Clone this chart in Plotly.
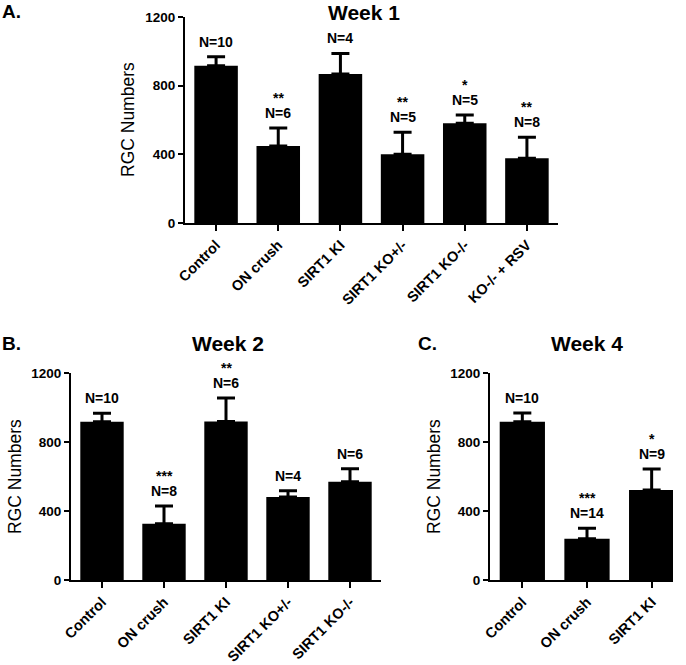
import plotly.graph_objects as go

# ---- Data ----
cats_w1 = ["Control", "ON crush", "SIRT1 KI", "SIRT1 KO+/-", "SIRT1 KO-/-", "KO-/- + RSV"]
vals_w1 = [916, 448, 868, 400, 581, 377]
err_w1 = [53, 105, 120, 128, 48, 122]
n_w1 = [10, 6, 4, 5, 5, 8]
stars_w1 = ["", "**", "", "**", "*", "**"]

cats_w2 = ["Control", "ON crush", "SIRT1 KI", "SIRT1 KO+/-", "SIRT1 KO-/-"]
vals_w2 = [919, 327, 920, 482, 571]
err_w2 = [49, 103, 137, 36, 75]
n_w2 = [10, 8, 6, 4, 6]
stars_w2 = ["", "***", "**", "", ""]

cats_w4 = ["Control", "ON crush", "SIRT1 KI"]
vals_w4 = [919, 240, 522]
err_w4 = [51, 60, 122]
n_w4 = [10, 14, 9]
stars_w4 = ["", "***", "*"]

y_ticks = [0, 400, 800, 1200]

W, H = 686, 665
FONT = "Liberation Sans"

def px_x(p):
    return p / W

def px_y(p):
    return 1 - p / H

panels = [
    dict(cats=cats_w1, vals=vals_w1, err=err_w1, n=n_w1, stars=stars_w1,
         xd=[px_x(185), px_x(558)], yd=[px_y(223), px_y(17)], xr=[-0.5, 5.5],
         title="Week 1", tx=364, ty=0, ya_t="top", letter="A.", lx=1, ly=0,
         ytx=128, yty=120),
    dict(cats=cats_w2, vals=vals_w2, err=err_w2, n=n_w2, stars=stars_w2,
         xd=[px_x(71), px_x(381)], yd=[px_y(580), px_y(373.3)], xr=[-0.5, 4.5],
         title="Week 2", tx=227.5, ty=343.5, ya_t="middle", letter="B.", lx=1, ly=343.5,
         ytx=15, yty=477),
    dict(cats=cats_w4, vals=vals_w4, err=err_w4, n=n_w4, stars=stars_w4,
         xd=[px_x(490), px_x(673)], yd=[px_y(580), px_y(373.3)], xr=[-0.5, 2.33],
         title="Week 4", tx=586.5, ty=343.5, ya_t="middle", letter="C.", lx=417, ly=343.5,
         ytx=434, yty=477),
]

fig = go.Figure()
annotations = []
layout = dict(width=W, height=H, margin=dict(l=0, r=0, t=0, b=0, autoexpand=False),
              paper_bgcolor="white", plot_bgcolor="white", showlegend=False,
              font=dict(family=FONT, color="black"))

for i, p in enumerate(panels):
    sfx = "" if i == 0 else str(i + 1)
    xa, ya = "x" + sfx, "y" + sfx
    fig.add_trace(go.Bar(
        x=p["cats"], y=p["vals"], width=0.7, xaxis=xa, yaxis=ya,
        marker=dict(color="black", line=dict(width=0)),
        error_y=dict(type="data", symmetric=False, array=p["err"],
                     arrayminus=[0] * len(p["err"]), color="black",
                     thickness=3, width=9),
        hoverinfo="skip"))
    layout["xaxis" + sfx] = dict(
        domain=p["xd"], anchor=ya, type="category", range=p["xr"],
        showline=True, linewidth=2, linecolor="black", ticks="outside",
        ticklen=6, tickwidth=2, tickcolor="black", tickangle=-45,
        tickfont=dict(family=FONT, size=14.5, color="black", weight="bold"),
        showgrid=False, zeroline=False, fixedrange=True, automargin=False)
    layout["yaxis" + sfx] = dict(
        domain=p["yd"], anchor=xa, range=[0, 1200], tickvals=y_ticks,
        showline=True, linewidth=2, linecolor="black", ticks="outside",
        ticklen=5, tickwidth=2, tickcolor="black",
        tickfont=dict(family=FONT, size=13.5, color="black", weight="bold"),
        showgrid=False, zeroline=False, fixedrange=True, automargin=False)
    for c, v, e, n, s in zip(p["cats"], p["vals"], p["err"], p["n"], p["stars"]):
        top = v + e
        annotations.append(dict(x=c, y=top, xref=xa, yref=ya, text="<b>N=%d</b>" % n,
                                showarrow=False, yanchor="middle", yshift=15,
                                font=dict(family=FONT, size=14, color="black")))
        if s:
            annotations.append(dict(x=c, y=top, xref=xa, yref=ya, text="<b>%s</b>" % s,
                                    showarrow=False, yanchor="middle", yshift=30,
                                    font=dict(family=FONT, size=14, color="black")))
    annotations.append(dict(x=px_x(p["tx"]), y=px_y(p["ty"]), xref="paper", yref="paper",
                            text="<b>%s</b>" % p["title"], showarrow=False,
                            xanchor="center", yanchor=p["ya_t"], borderpad=0,
                            font=dict(family=FONT, size=21, color="black")))
    annotations.append(dict(x=px_x(p["lx"]), y=px_y(p["ly"]), xref="paper", yref="paper",
                            text="<b>%s</b>" % p["letter"], showarrow=False,
                            xanchor="left", yanchor=p["ya_t"], borderpad=0,
                            font=dict(family=FONT, size=19, color="black")))
    annotations.append(dict(x=px_x(p["ytx"]), y=px_y(p["yty"]), xref="paper", yref="paper",
                            text="RGC Numbers", showarrow=False, textangle=-90,
                            xanchor="center", yanchor="middle",
                            font=dict(family=FONT, size=17.5, color="black")))

layout["annotations"] = annotations
fig.update_layout(**layout)
fig.write_html("out.html", config={"responsive": False, "displayModeBar": False},
               post_script="document.body.style.margin='0';document.body.style.padding='0';")
